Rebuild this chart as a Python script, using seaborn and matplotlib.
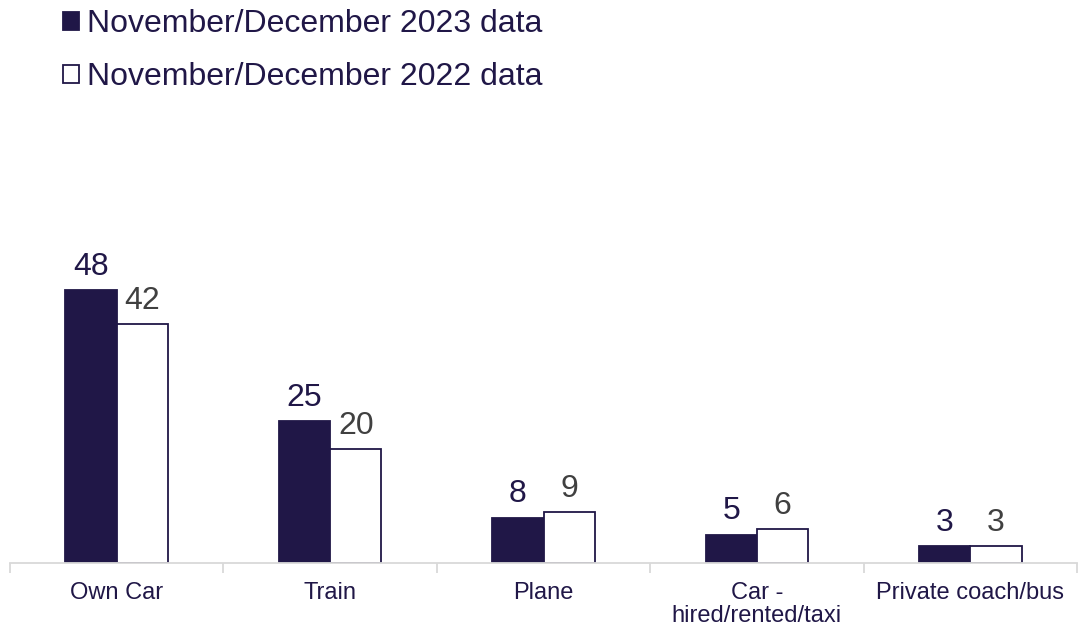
import matplotlib
matplotlib.use('Agg')
import matplotlib.pyplot as plt
import numpy as np
import pandas as pd
import seaborn as sns
from matplotlib.patches import Patch

categories = ['Own Car', 'Train', 'Plane', 'Car -\nhired/rented/taxi', 'Private coach/bus']
series_names = ['November/December 2023 data', 'November/December 2022 data']
values_2023 = [48, 25, 8, 5, 3]
values_2022 = [42, 20, 9, 6, 3]

NAVY = '#201747'
GREY = '#404040'

df = pd.DataFrame({
    'mode': categories * 2,
    'value': values_2023 + values_2022,
    'year': [series_names[0]] * len(categories) + [series_names[1]] * len(categories),
})

sns.set_style('white')
plt.rcParams['font.family'] = ['Liberation Sans', 'DejaVu Sans']

fig = plt.figure(figsize=(10.79, 6.3), dpi=100)
ax = fig.add_axes([10 / 1079, 1 - 563 / 630, 1067 / 1079, 433 / 630])

sns.barplot(data=df, x='mode', y='value', hue='year', order=categories,
            hue_order=series_names, palette=[NAVY, 'white'], width=0.48,
            edgecolor=NAVY, linewidth=1.3, saturation=1, legend=False, ax=ax)

# value labels
label_colors = [NAVY, GREY]
for cont, col in zip(ax.containers, label_colors):
    ax.bar_label(cont, labels=[f'{v:g}' for v in cont.datavalues],
                 padding=6, fontsize=23, color=col)

ax.set_xlim(-0.5, len(categories) - 0.5)
ax.set_ylim(0, 433 / 5.68)
ax.set_xlabel('')
ax.set_ylabel('')
ax.set_yticks([])

# axis styling
for s in ['top', 'right', 'left']:
    ax.spines[s].set_visible(False)
ax.spines['bottom'].set_color('#d9d9d9')
ax.spines['bottom'].set_linewidth(1.3)
ax.tick_params(axis='x', which='major', length=0, pad=14, labelsize=17,
               labelcolor=NAVY)
for lbl in ax.get_xticklabels():
    lbl.set_linespacing(1.05)
ax.set_xticks(np.arange(-0.5, len(categories)), minor=True)
ax.tick_params(axis='x', which='minor', bottom=True, length=7, width=1.3,
               color='#d9d9d9')

handles = [Patch(facecolor=NAVY, edgecolor=NAVY, linewidth=1.3),
           Patch(facecolor='white', edgecolor=NAVY, linewidth=1.3)]
fig.legend(handles, series_names, loc='upper left', bbox_to_anchor=(0.032, 1.031),
           frameon=False, fontsize=23, labelcolor=NAVY, handlelength=0.5,
           handleheight=0.5, handletextpad=0.25, labelspacing=0.72)

fig.savefig('out.png', dpi=100)
